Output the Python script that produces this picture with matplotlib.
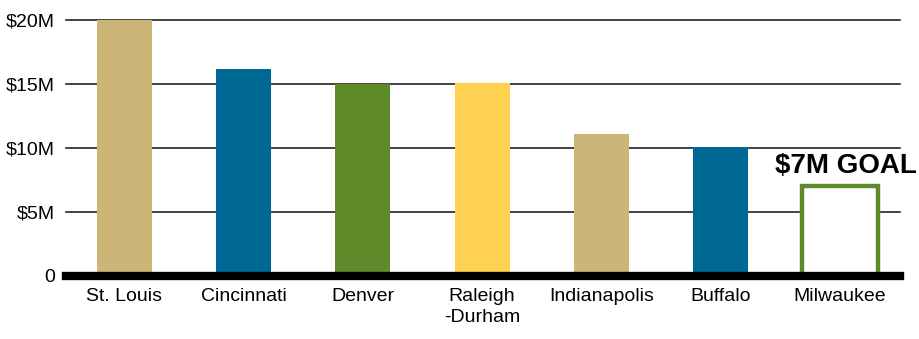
import matplotlib
matplotlib.use("Agg")
import matplotlib.pyplot as plt

plt.rcParams['font.family'] = ['Liberation Sans', 'DejaVu Sans']

# 各城市筹款金额（单位：百万美元）
cities = ["St. Louis", "Cincinnati", "Denver", "Raleigh\n-Durham",
          "Indianapolis", "Buffalo", "Milwaukee"]
raised = [20.0, 16.2, 15.0, 15.1, 11.1, 10.1]
colors = ["#CBB677", "#006894", "#5E8A2A", "#FFD150", "#CBB677", "#006894"]
goal = 7.0
goal_label = "$7M GOAL"
yticks = [0, 5, 10, 15, 20]
ytick_labels = ["0", "$5M", "$10M", "$15M", "$20M"]

fig = plt.figure(figsize=(9.19, 3.39), dpi=100)
ax = fig.add_axes([0.072, 0.186, 0.907, 0.755])

# 网格线
for y in yticks[1:]:
    ax.axhline(y, color="#222222", lw=1.2, zorder=1, clip_on=False)

# 已完成的城市
x = list(range(len(raised)))
ax.bar(x, raised, width=0.46, color=colors, zorder=2)

# 密尔沃基目标（空心框）
gx = len(raised)
ax.bar(gx, goal, width=0.63, facecolor="white", edgecolor="#5E8A2A",
       linewidth=3.2, zorder=2)
ax.text(gx + 0.05, goal + 0.6, goal_label, ha="center", va="bottom",
        fontsize=20, fontweight="bold", color="black")

# 底部粗黑线
ax.axhline(0, color="black", lw=6, zorder=3, clip_on=False)

ax.set_xlim(-0.486, 6.5)
ax.set_ylim(0, 20)
ax.set_xticks(range(len(cities)))
ax.set_xticklabels(cities, fontsize=14, va="top", linespacing=1.3)
ax.set_yticks(yticks)
ax.set_yticklabels(ytick_labels, fontsize=14)
ax.tick_params(length=0)
ax.tick_params(axis="x", pad=9)
ax.tick_params(axis="y", pad=8)
for s in ax.spines.values():
    s.set_visible(False)

fig.savefig("out.png", dpi=100)
